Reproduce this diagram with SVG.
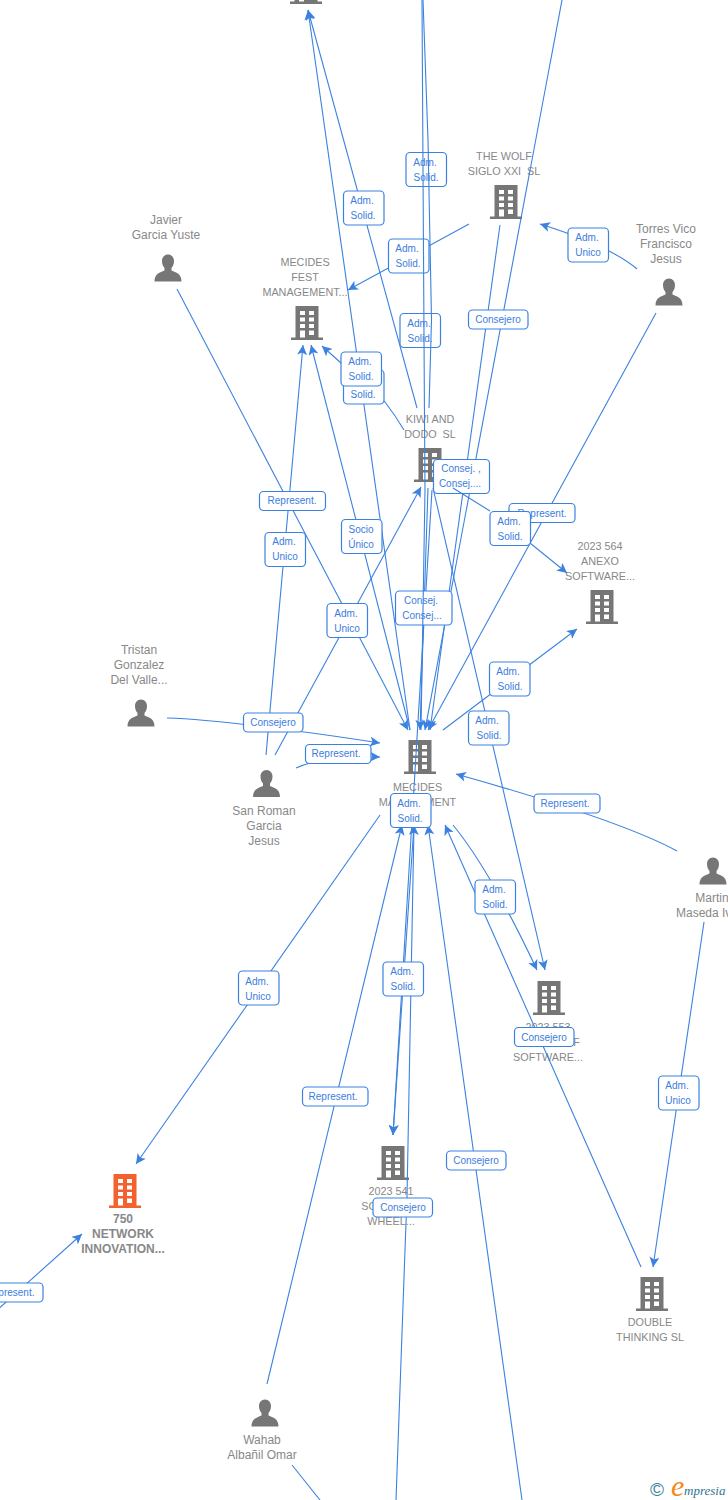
<svg xmlns="http://www.w3.org/2000/svg" width="728" height="1500" viewBox="0 0 728 1500">
<style>
.c{fill:none;stroke:#3b82e0;stroke-width:1.1;marker-end:url(#a)}
.n{fill:none;stroke:#3b82e0;stroke-width:1.1}
.t{font:10.8px "Liberation Sans",Arial,sans-serif;fill:#888;text-anchor:middle}
.p{font:12px "Liberation Sans",Arial,sans-serif;fill:#888;text-anchor:middle}
.o{font:bold 12px "Liberation Sans",Arial,sans-serif;fill:#888;text-anchor:middle}
.l rect{fill:#fff;stroke:#3b82e0;stroke-width:1.2}
.l text{font:10px "Liberation Sans",Arial,sans-serif;fill:#3b7ddd;text-anchor:middle}
.g{fill:#767676}
</style>
<defs>
<marker id="a" markerUnits="userSpaceOnUse" markerWidth="11" markerHeight="10" refX="10" refY="5" orient="auto"><path d="M0,0L10,5L0,10L2.5,5Z" fill="#3b82e0"/></marker>
<path id="bp" fill-rule="evenodd" d="M-11.5,-17H11.5V14.5H16V17H-16V14.5H-11.5ZM-7,-12V-8H-2V-12ZM2,-12V-8H7V-12ZM-7,-5.500V-1.500H-2V-5.500ZM2,-5.500V-1.500H7V-5.500ZM-7,1V5H-2V1ZM2,1V5H7V1ZM-7,7.500V14.500H-2V7.500ZM2,7.500V12H7V7.500Z"/>
<path id="pp" d="M0,-13.500C3.800,-13.500 6,-10.500 6,-6.800C6,-3.800 4.800,-1.500 3.500,0V2.500C8,4.500 13.500,5.500 13.500,13.500H-13.500C-13.500,5.500 -8,4.500 -3.500,2.500V0C-4.800,-1.500 -6,-3.800 -6,-6.800C-6,-10.500 -3.800,-13.500 0,-13.500Z"/>
</defs>

<g id="node-top"><use href="#bp" class="g" x="306" y="-13"/></g>
<g id="node-wolf"><text class="t" x="504" y="160">THE WOLF</text><text class="t" x="504" y="175">SIGLO XXI&#160; SL</text><use href="#bp" class="g" x="506" y="202"/></g>
<g id="node-javier"><text class="p" x="166" y="224">Javier</text><text class="p" x="166" y="239">Garcia Yuste</text><use href="#pp" class="g" x="168" y="268"/></g>
<g id="node-fest"><text class="t" x="305" y="266">MECIDES</text><text class="t" x="305" y="281">FEST</text><text class="t" x="305" y="296">MANAGEMENT...</text><use href="#bp" class="g" x="307" y="323"/></g>
<g id="node-torres"><text class="p" x="666" y="233">Torres Vico</text><text class="p" x="666" y="248">Francisco</text><text class="p" x="666" y="263">Jesus</text><use href="#pp" class="g" x="669" y="292"/></g>
<g id="node-kiwi"><text class="t" x="430" y="423">KIWI AND</text><text class="t" x="430" y="438">DODO&#160; SL</text><use href="#bp" class="g" x="430" y="465"/></g>
<g id="node-564"><text class="t" x="600" y="550">2023 564</text><text class="t" x="600" y="565">ANEXO</text><text class="t" x="600" y="580">SOFTWARE...</text><use href="#bp" class="g" x="602" y="607"/></g>
<g id="node-tristan"><text class="p" x="139" y="654">Tristan</text><text class="p" x="139" y="669">Gonzalez</text><text class="p" x="139" y="684">Del Valle...</text><use href="#pp" class="g" x="141" y="713"/></g>
<g id="node-sanroman"><text class="p" x="264" y="815">San Roman</text><text class="p" x="264" y="830">Garcia</text><text class="p" x="264" y="845">Jesus</text><use href="#pp" class="g" x="266.500" y="783.500"/></g>
<g id="node-mecides"><use href="#bp" class="g" x="420" y="757"/><text class="t" x="417.500" y="791">MECIDES</text><text class="t" x="417.500" y="806">MANAGEMENT</text></g>
<g id="node-martin"><text class="p" x="712" y="902">Martin</text><text class="p" x="676" y="917" style="text-anchor:start">Maseda Iv...</text><use href="#pp" class="g" x="713" y="871"/></g>
<g id="node-553"><use href="#bp" class="g" x="549" y="998"/><text class="t" x="548" y="1031">2023 553</text><text class="t" x="576.500" y="1046">F</text><text class="t" x="548" y="1061">SOFTWARE...</text></g>
<g id="node-541"><use href="#bp" class="g" x="393" y="1163"/><text class="t" x="391" y="1195">2023 541</text><text class="t" x="369" y="1210">SO</text><text class="t" x="391" y="1225">WHEEL...</text></g>
<g id="node-750"><use href="#bp" x="125" y="1191" fill="#f4612f"/><text class="o" x="123" y="1223">750</text><text class="o" x="123" y="1238">NETWORK</text><text class="o" x="123" y="1253">INNOVATION...</text></g>
<g id="node-double"><use href="#bp" class="g" x="652" y="1294"/><text class="t" x="650" y="1326">DOUBLE</text><text class="t" x="650" y="1341">THINKING SL</text></g>
<g id="node-wahab"><use href="#pp" class="g" x="265" y="1413"/><text class="p" x="262" y="1444">Wahab</text><text class="p" x="262" y="1459">Albañil Omar</text></g>

<g id="connectors">
<path class="c" d="M417,408L308,10"/>
<path class="c" d="M410,730L308,10"/>
<path class="c" d="M469,224L348,290"/>
<path class="c" d="M500,225L430,730"/>
<path class="c" d="M562,0L425,730"/>
<path class="c" d="M637,269Q610,246 540,224"/>
<path class="c" d="M656,313L428,730"/>
<path class="c" d="M177,289L408,730"/>
<path class="c" d="M167,718Q230,720 380,743"/>
<path class="c" d="M296,768Q325,755 380,757"/>
<path class="c" d="M266,755L303,345"/>
<path class="c" d="M275,755L421,487"/>
<path class="c" d="M410,730L311,345"/>
<path class="c" d="M404,430Q395,415 385,402L365,385L341,363L322,346"/>
<path class="c" d="M530,543L567,573"/>
<path class="c" d="M443,730L577,629"/>
<path class="c" d="M433,488L545,970"/>
<path class="c" d="M677,851Q620,820 456,774"/>
<path class="c" d="M704,922L653,1267"/>
<path class="c" d="M380,815L136,1164"/>
<path class="c" d="M-5,1312L82,1234"/>
<path class="c" d="M267,1384L402,825"/>
<path class="c" d="M522,1500L428,825"/>
<path class="c" d="M396,1500L405,1250L407,1197L414,825"/>
<path class="n" d="M292,1465L320,1500"/>
<path class="c" d="M641,1267L445,825"/>
<path class="c" d="M453,825Q490,870 537,970"/>
<path class="c" d="M432,490L393,1135"/>
<path class="c" d="M414,825L393,1135"/>
<path class="c" d="M428,488L420,730"/>
</g>

<g id="labels" class="l">
<g><rect x="406" y="152.500" width="40.500" height="34" rx="4"/><text x="425" y="166">Adm.</text><text x="426" y="181">Solid.</text></g>
<g><rect x="343.500" y="191" width="40.500" height="34" rx="4"/><text x="362" y="204">Adm.</text><text x="363" y="219">Solid.</text></g>
<g><rect x="388.500" y="239" width="40.500" height="34" rx="4"/><text x="407" y="252">Adm.</text><text x="408" y="267">Solid.</text></g>
<g><rect x="400" y="313.500" width="40.500" height="34" rx="4"/><text x="419" y="327">Adm.</text><text x="420" y="342">Solid.</text></g>
<g><rect x="343.500" y="370" width="40.500" height="34" rx="4"/><text x="363" y="398">Solid.</text></g>
<g><rect x="341" y="352" width="40.500" height="34" rx="4"/><text x="360" y="365">Adm.</text><text x="361" y="380">Solid.</text></g>
<g><rect x="509" y="503.500" width="66" height="19" rx="4"/><text x="542" y="517">Represent.</text></g>
<g><rect x="433.500" y="459.500" width="56" height="34" rx="4"/><text x="461" y="472">Consej. ,</text><text x="460" y="487">Consej....</text></g>
<g><rect x="490" y="511.500" width="40.500" height="34" rx="4"/><text x="509" y="525">Adm.</text><text x="510" y="540">Solid.</text></g>
<g><rect x="341.500" y="519.500" width="40.500" height="34" rx="4"/><text x="361" y="533">Socio</text><text x="361" y="548">Único</text></g>
<g><rect x="265" y="532.500" width="40.500" height="34" rx="4"/><text x="284" y="545">Adm.</text><text x="285" y="560">Unico</text></g>
<g><rect x="259.500" y="491.500" width="66" height="19" rx="4"/><text x="292" y="504">Represent.</text></g>
<g><rect x="395.500" y="591" width="56.500" height="34" rx="4"/><text x="421" y="604">Consej.</text><text x="422" y="619">Consej...</text></g>
<g><rect x="327" y="603.500" width="40.500" height="34" rx="4"/><text x="346" y="617">Adm.</text><text x="347" y="632">Unico</text></g>
<g><rect x="489.500" y="662" width="40.500" height="34" rx="4"/><text x="508" y="675">Adm.</text><text x="510" y="690">Solid.</text></g>
<g><rect x="468.500" y="711" width="40.500" height="34" rx="4"/><text x="487" y="724">Adm.</text><text x="489" y="739">Solid.</text></g>
<g><rect x="243.500" y="713" width="59.500" height="19" rx="4"/><text x="273" y="726">Consejero</text></g>
<g><rect x="305.500" y="744.500" width="65.500" height="19" rx="4"/><text x="336" y="757">Represent.</text></g>
<g><rect x="534" y="794" width="66" height="19" rx="4"/><text x="565" y="807">Represent.</text></g>
<g><rect x="390.500" y="793.500" width="40.500" height="34" rx="4"/><text x="409" y="807">Adm.</text><text x="410" y="822">Solid.</text></g>
<g><rect x="475" y="880" width="40.500" height="34" rx="4"/><text x="494" y="893">Adm.</text><text x="495" y="908">Solid.</text></g>
<g><rect x="238.500" y="971" width="40.500" height="34" rx="4"/><text x="257" y="985">Adm.</text><text x="258" y="1000">Unico</text></g>
<g><rect x="383" y="962" width="40.500" height="34" rx="4"/><text x="402" y="975">Adm.</text><text x="403" y="990">Solid.</text></g>
<g><rect x="302.500" y="1087" width="65.500" height="19" rx="4"/><text x="333" y="1100">Represent.</text></g>
<g><rect x="514.500" y="1027.500" width="59.500" height="19" rx="4"/><text x="544" y="1041">Consejero</text></g>
<g><rect x="446.500" y="1151" width="59.500" height="19" rx="4"/><text x="476" y="1164">Consejero</text></g>
<g><rect x="373" y="1198" width="59.500" height="19" rx="4"/><text x="403" y="1211">Consejero</text></g>
<g><rect x="658.500" y="1076" width="40.500" height="34" rx="4"/><text x="677" y="1089">Adm.</text><text x="678" y="1104">Unico</text></g>
<g><rect x="568" y="228" width="40.500" height="34" rx="4"/><text x="587" y="241">Adm.</text><text x="588" y="256">Unico</text></g>
<g><rect x="468.500" y="310" width="59.500" height="19" rx="4"/><text x="498" y="323">Consejero</text></g>
<g><rect x="-23" y="1283" width="66" height="19" rx="4"/><text x="10" y="1296">Represent.</text></g>
</g>

<g id="connectors-over">
<path class="n" d="M423,0L428,140L431.500,320L429,408"/>
<path class="n" d="M422,0L424.500,420L425,490L421,730"/>
<path class="n" d="M453,488L490,511"/>
</g>

<g id="logo">
<text x="650" y="1496" font-family="'Liberation Sans',sans-serif" font-size="19" fill="#3b7f9b">©</text>
<text x="671" y="1496" font-family="'Liberation Serif',serif" font-style="italic" font-size="30" fill="#f28a1e">e</text>
<text x="684" y="1495" font-family="'Liberation Serif',serif" font-style="italic" font-size="13" fill="#2f7590">mpresia</text>
</g>
</svg>
